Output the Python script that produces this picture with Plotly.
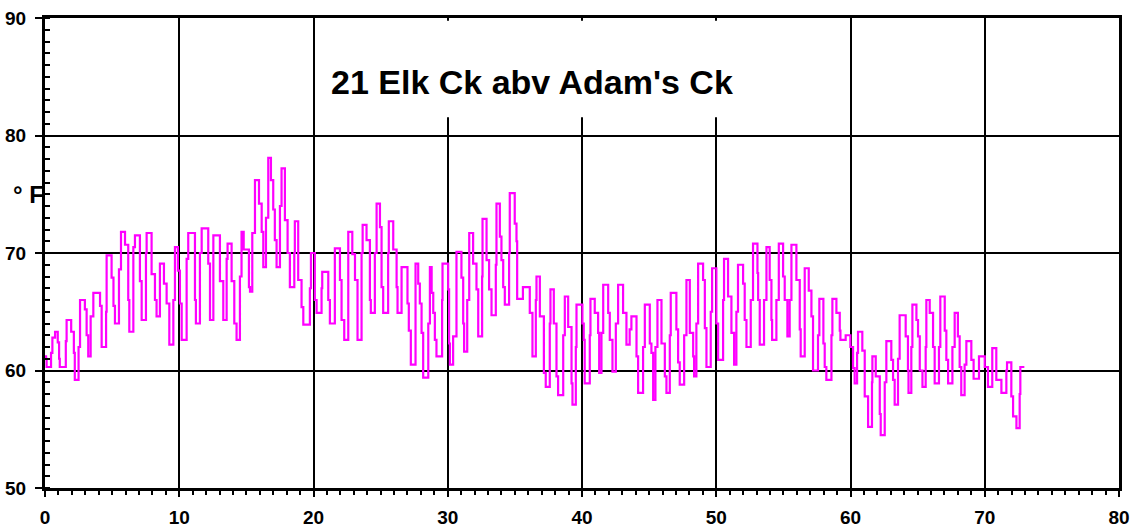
import plotly.graph_objects as go

# Elapsed days since start of record
day = [
    0.00, 0.08, 0.12, 0.40, 0.45, 0.55, 0.75, 0.87, 0.95, 1.05, 1.10, 1.49,
    1.55, 1.61, 1.85, 1.95, 2.15, 2.22, 2.41,
    2.50, 2.61, 2.85, 2.97, 3.10, 3.22, 3.35,
    3.40, 3.60, 3.85, 4.10, 4.22, 4.47,
    4.55, 4.59, 4.75, 4.96, 5.10, 5.21, 5.46,
    5.51, 5.66, 5.83, 5.96, 6.20, 6.28, 6.45,
    6.58, 6.70, 6.95, 7.07, 7.20, 7.45,
    7.52, 7.57, 7.82, 7.94, 8.19, 8.31, 8.51,
    8.56, 8.76, 8.86, 9.06, 9.26, 9.43,
    9.56, 9.68, 9.80, 9.90, 10.05, 10.18, 10.43,
    10.55, 10.67, 10.92, 11.17, 11.24, 11.42,
    11.54, 11.67, 11.91, 12.16, 12.29, 12.49,
    12.54, 12.78, 13.03, 13.28, 13.48,
    13.53, 13.60, 13.78, 13.90, 14.10, 14.27, 14.45,
    14.52, 14.64, 14.77, 14.80, 15.02, 15.19, 15.27, 15.39,
    15.44, 15.64, 15.89, 15.94, 16.14, 16.26, 16.38,
    16.46, 16.63, 16.75, 16.83, 17.00, 17.12, 17.25, 17.37,
    17.50, 17.62, 17.82, 17.87, 18.07, 18.24, 18.49,
    18.57, 18.61, 18.74, 18.86, 19.11, 19.24, 19.49,
    19.73, 19.81, 19.98, 20.10, 20.23, 20.48,
    20.60, 20.65, 20.85, 21.10, 21.22, 21.47,
    21.59, 21.79, 21.97, 22.09, 22.29, 22.54,
    22.59, 22.84, 22.89, 23.09, 23.28, 23.46,
    23.58, 23.66, 23.83, 23.95, 24.20, 24.27, 24.45,
    24.57, 24.70, 24.87, 24.95, 25.07, 25.19, 25.44,
    25.56, 25.61, 25.81, 25.94, 26.19, 26.26, 26.51,
    26.56, 26.86, 27.00, 27.10, 27.25, 27.55,
    27.60, 27.75, 27.80, 27.92, 28.05, 28.17, 28.42,
    28.55, 28.67, 28.80, 28.92, 29.04, 29.16, 29.54,
    29.58, 29.61, 29.86, 30.03, 30.10, 30.16, 30.35,
    30.40, 30.65, 30.90, 31.02, 31.15, 31.22, 31.40,
    31.45, 31.60, 31.77, 31.89, 32.14, 32.27, 32.52,
    32.56, 32.59, 32.76, 32.89, 33.08, 33.26, 33.51,
    33.58, 33.63, 33.83, 33.88, 34.00, 34.13, 34.25, 34.50,
    34.57, 34.62, 34.87, 34.99, 35.12, 35.17, 35.50,
    35.60, 35.99, 36.11, 36.31, 36.48,
    36.56, 36.61, 36.73, 36.86, 37.16, 37.30, 37.48,
    37.60, 37.65, 37.73, 37.90, 38.10, 38.22, 38.47,
    38.60, 38.72, 38.89, 38.97, 39.22, 39.29, 39.47,
    39.54, 39.59, 39.96, 40.03, 40.13, 40.20, 40.33,
    40.58, 40.63, 40.83, 40.95, 41.20, 41.28, 41.38,
    41.45, 41.58, 41.77, 41.95, 42.07, 42.27, 42.45,
    42.52, 42.69, 42.87, 43.06, 43.31, 43.44,
    43.55, 43.68, 43.93, 44.06, 44.18, 44.43,
    44.55, 44.68, 44.87, 45.05, 45.17, 45.30, 45.42,
    45.47, 45.62, 45.79, 45.92, 46.17, 46.29, 46.46,
    46.54, 46.61, 46.86, 47.03, 47.16, 47.28, 47.53,
    47.61, 47.78, 47.89, 48.03, 48.28, 48.35, 48.45,
    48.52, 48.65, 48.90, 49.02, 49.15, 49.27, 49.52,
    49.59, 49.69, 49.89, 50.01, 50.14, 50.39,
    50.51, 50.58, 50.76, 50.88, 51.13, 51.33, 51.43,
    51.50, 51.62, 51.87, 52.00, 52.12, 52.25, 52.50,
    52.57, 52.74, 52.92, 53.07, 53.12, 53.24, 53.41,
    53.56, 53.74, 53.91, 53.98, 54.11, 54.16, 54.41,
    54.48, 54.66, 54.85, 54.98, 55.10, 55.30, 55.40,
    55.47, 55.60, 55.85, 55.97, 56.22, 56.29, 56.54,
    56.59, 56.79, 56.89, 57.09, 57.21, 57.46,
    57.58, 57.68, 57.93, 57.98, 58.08, 58.20, 58.45,
    58.58, 58.65, 58.90, 58.95, 59.20, 59.25, 59.57,
    59.64, 59.89, 59.99, 60.19, 60.31, 60.44,
    60.49, 60.56, 60.81, 60.88, 61.06, 61.31, 61.56,
    61.60, 61.63, 61.80, 61.88, 62.18, 62.25, 62.47,
    62.55, 62.67, 62.92, 63.04, 63.17, 63.29, 63.47,
    63.54, 63.66, 63.91, 64.11, 64.28, 64.32, 64.45,
    64.53, 64.61, 64.86, 64.91, 65.03, 65.16, 65.36, 65.53,
    65.60, 65.65, 65.85, 65.90, 66.15, 66.27, 66.52,
    66.59, 66.69, 66.94, 67.02, 67.14, 67.27, 67.51,
    67.59, 67.76, 67.93, 68.00, 68.13, 68.25, 68.38,
    68.50, 68.63, 68.88, 69.00, 69.17, 69.50,
    69.57, 69.87, 70.00, 70.24, 70.49,
    70.56, 70.74, 70.86, 71.24, 71.49,
    71.61, 71.66, 71.91, 71.98, 72.11, 72.36, 72.55,
    72.60, 72.65, 72.95,
]

# Water temperature, degrees F
temp_f = [
    61.2, 61.0, 60.3, 60.3, 61.5, 62.8, 63.3, 63.3, 62.4, 61.0, 60.3, 60.3,
    62.5, 64.3, 64.3, 63.3, 61.5, 59.2, 59.2,
    62.0, 66.0, 66.0, 65.2, 63.0, 61.2, 61.2,
    64.6, 66.6, 66.6, 65.5, 62.0, 62.0,
    65.0, 69.8, 69.8, 67.9, 65.5, 64.0, 64.0,
    68.6, 71.8, 71.8, 70.7, 66.0, 63.3, 63.3,
    70.5, 71.5, 71.5, 67.6, 64.3, 64.3,
    70.0, 71.7, 71.7, 68.2, 66.0, 64.6, 64.6,
    69.1, 69.1, 67.4, 65.7, 62.2, 62.2,
    66.0, 70.5, 70.5, 68.5, 65.7, 62.6, 62.6,
    69.5, 71.7, 71.7, 66.0, 64.0, 64.0,
    70.0, 72.1, 72.1, 69.1, 64.3, 64.3,
    71.5, 71.5, 67.6, 64.3, 64.3,
    69.5, 70.8, 70.8, 67.6, 64.0, 62.6, 62.6,
    68.0, 71.8, 71.8, 70.3, 70.3, 67.1, 66.7, 66.7,
    71.7, 76.2, 76.2, 74.2, 71.8, 68.8, 68.8,
    73.0, 78.1, 78.1, 76.2, 73.7, 71.1, 68.8, 68.8,
    74.0, 77.2, 77.2, 72.8, 70.0, 67.1, 67.1,
    70.0, 72.7, 72.7, 67.7, 65.4, 63.9, 63.9,
    67.0, 70.0, 70.0, 66.0, 64.9, 64.9,
    67.0, 68.4, 68.4, 66.0, 64.0, 64.0,
    70.4, 70.4, 67.7, 64.3, 62.6, 62.6,
    71.8, 71.8, 69.9, 67.7, 62.6, 62.6,
    70.0, 72.4, 72.4, 71.1, 66.0, 64.9, 64.9,
    70.0, 74.2, 74.2, 72.2, 67.1, 64.9, 64.9,
    70.0, 72.7, 72.7, 70.3, 67.1, 64.9, 64.9,
    68.8, 68.8, 65.7, 63.4, 60.5, 60.5,
    69.1, 69.1, 67.4, 65.7, 63.2, 59.4, 59.4,
    64.0, 68.8, 66.6, 64.9, 62.6, 61.2, 61.2,
    66.0, 69.1, 69.1, 66.9, 62.3, 60.5, 60.5,
    62.9, 70.1, 70.1, 67.9, 64.0, 61.6, 61.6,
    66.0, 71.7, 71.7, 69.1, 66.9, 62.9, 62.9,
    68.0, 72.9, 72.9, 69.4, 66.9, 64.7, 64.7,
    69.0, 74.2, 74.2, 71.4, 69.4, 67.1, 65.6, 65.6,
    70.0, 75.1, 75.1, 72.5, 71.0, 66.1, 66.1,
    67.1, 67.1, 64.9, 61.2, 61.2,
    66.0, 68.0, 68.0, 64.6, 59.8, 58.6, 58.6,
    64.0, 66.9, 66.9, 64.0, 59.5, 57.9, 57.9,
    63.0, 66.3, 66.3, 63.7, 58.9, 57.1, 57.1,
    62.0, 65.6, 65.6, 64.0, 62.6, 58.9, 58.9,
    63.0, 66.1, 66.1, 64.9, 63.2, 59.8, 59.8,
    63.2, 67.3, 67.3, 64.9, 62.6, 59.9, 59.9,
    64.0, 67.3, 67.3, 64.9, 62.2, 62.2,
    63.5, 64.6, 64.6, 61.2, 58.1, 58.1,
    62.0, 65.6, 65.6, 62.3, 61.5, 57.5, 57.5,
    62.0, 66.0, 66.0, 62.3, 59.5, 58.1, 58.1,
    63.0, 66.6, 66.6, 63.5, 60.7, 58.8, 58.8,
    63.0, 67.7, 67.7, 63.2, 61.2, 59.5, 59.5,
    64.0, 69.1, 69.1, 67.7, 63.6, 60.3, 60.3,
    65.0, 68.7, 68.7, 64.0, 60.9, 60.9,
    66.0, 69.5, 69.5, 66.3, 63.2, 60.5, 60.5,
    65.0, 69.0, 69.0, 67.4, 64.3, 62.0, 62.0,
    66.0, 70.8, 70.8, 68.3, 66.0, 62.2, 62.2,
    66.0, 70.5, 70.5, 67.7, 64.3, 62.6, 62.6,
    66.0, 70.8, 70.8, 68.0, 66.0, 62.9, 62.9,
    66.0, 70.7, 70.7, 67.7, 63.5, 61.2, 61.2,
    68.7, 68.7, 66.8, 64.6, 60.0, 60.0,
    63.0, 66.1, 66.1, 62.3, 60.3, 59.2, 59.2,
    63.0, 66.1, 66.1, 64.9, 63.4, 62.6, 62.6,
    63.0, 63.0, 62.0, 60.2, 58.9, 58.9,
    61.5, 63.3, 63.3, 61.7, 57.8, 55.2, 55.2,
    59.0, 61.2, 61.2, 59.5, 56.3, 54.5, 54.5,
    59.0, 62.5, 62.5, 60.9, 59.2, 57.1, 57.1,
    61.0, 64.7, 64.7, 62.9, 60.0, 58.1, 58.1,
    62.0, 65.6, 65.6, 64.3, 62.9, 60.0, 58.6, 58.6,
    62.0, 66.0, 66.0, 64.9, 62.0, 58.9, 58.9,
    62.0, 66.3, 66.3, 63.4, 60.9, 58.9, 58.9,
    62.0, 64.9, 64.9, 62.9, 60.3, 57.9, 57.9,
    60.5, 62.5, 62.5, 60.9, 59.3, 59.3,
    61.2, 61.2, 60.3, 58.6, 58.6,
    61.9, 61.9, 59.2, 58.1, 58.1,
    60.0, 60.7, 60.7, 57.8, 56.1, 55.1, 55.1,
    58.0, 60.3, 60.3,
]

x_ticks = [0, 10, 20, 30, 40, 50, 60, 70, 80]
y_ticks = [50, 60, 70, 80, 90]
title_text = "21 Elk Ck abv Adam's Ck"
unit_label = "° F"

FONT = "Liberation Sans, Arial, sans-serif"

fig = go.Figure()
fig.add_trace(go.Scatter(
    x=day, y=temp_f, mode="lines",
    line=dict(color="#FF00FF", width=2.2, shape="hv"),
    hoverinfo="skip",
))

fig.update_layout(
    width=1136, height=531,
    margin=dict(l=45, r=17, t=18, b=43, autoexpand=False),
    plot_bgcolor="white", paper_bgcolor="white",
    showlegend=False,
)

fig.update_xaxes(
    range=[0, 80], tickmode="array", tickvals=x_ticks,
    ticktext=[str(v) for v in x_ticks],
    ticks="outside", ticklen=6, tickwidth=2, tickcolor="black",
    showline=True, linewidth=3, linecolor="black", mirror=True,
    showgrid=True, gridcolor="black", gridwidth=2, zeroline=False,
    tickfont=dict(family=FONT, size=19, color="black", weight="bold"),
    ticklabelstandoff=4, automargin=False,
    minor=dict(dtick=1, tick0=0, ticks="outside", ticklen=4, tickwidth=2,
               tickcolor="black", showgrid=False),
)
fig.update_yaxes(
    range=[50, 90], tickmode="array", tickvals=y_ticks,
    ticktext=[str(v) for v in y_ticks],
    ticks="outside", ticklen=7, tickwidth=2, tickcolor="black",
    showline=True, linewidth=3, linecolor="black", mirror=True,
    showgrid=True, gridcolor="black", gridwidth=2, zeroline=False,
    tickfont=dict(family=FONT, size=19, color="black", weight="bold"),
    ticklabelstandoff=5, automargin=False,
    minor=dict(dtick=1, tick0=50, ticks="inside", ticklen=5, tickwidth=2,
               tickcolor="black", showgrid=False),
)

# white box behind the title
fig.add_shape(type="rect", xref="paper", yref="paper",
              x0=0.254, x1=0.652, y0=0.789, y1=0.994,
              fillcolor="white", line=dict(width=0), layer="above")

fig.add_annotation(text=title_text, xref="paper", yref="paper",
                   x=0.4535, y=0.864, xanchor="center", yanchor="middle",
                   showarrow=False,
                   font=dict(family=FONT, size=34, color="black", weight="bold"))

fig.add_annotation(text=unit_label, xref="paper", yref="y",
                   x=0, y=75, xanchor="right", yanchor="middle", xshift=1,
                   showarrow=False,
                   font=dict(family=FONT, size=24, color="black", weight="bold"))

fig.write_html("out.html")
